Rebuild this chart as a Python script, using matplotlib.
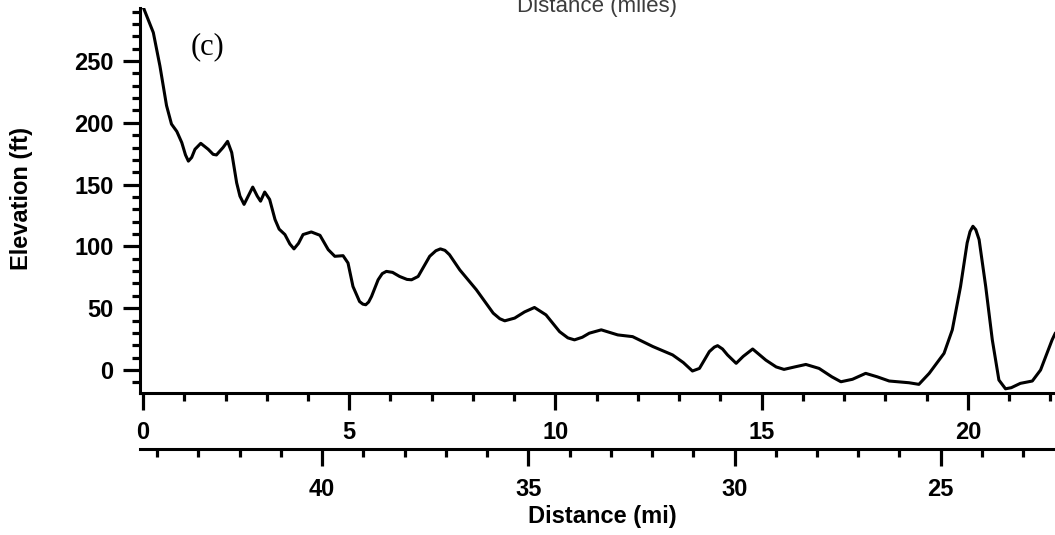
import matplotlib
matplotlib.use('Agg')
import matplotlib.pyplot as plt
from matplotlib.ticker import MultipleLocator

# profile (distance along route in miles, elevation in ft)
dist_mi = [0.00, 0.25, 0.41, 0.57, 0.69, 0.82, 0.94, 1.03, 1.10, 1.18,
           1.26, 1.40, 1.58, 1.70, 1.78, 1.86, 1.94, 2.05, 2.15, 2.27,
           2.35, 2.45, 2.55, 2.66, 2.77, 2.85, 2.95, 3.07, 3.20, 3.30,
           3.44, 3.56, 3.66, 3.77, 3.88, 4.08, 4.29, 4.49, 4.65, 4.85,
           4.97, 5.09, 5.25, 5.33, 5.40, 5.47, 5.54, 5.70, 5.80, 5.90,
           6.05, 6.22, 6.40, 6.51, 6.67, 6.95, 7.10, 7.21, 7.32, 7.43,
           7.68, 8.08, 8.49, 8.65, 8.77, 9.01, 9.25, 9.49, 9.77, 10.10,
           10.30, 10.46, 10.65, 10.82, 11.11, 11.51, 11.87, 12.36, 12.84, 13.10,
           13.32, 13.49, 13.73, 13.85, 13.93, 14.05, 14.17, 14.38, 14.55, 14.78,
           15.10, 15.35, 15.54, 15.80, 16.07, 16.39, 16.70, 16.92, 17.20, 17.52,
           17.80, 18.09, 18.57, 18.81, 19.06, 19.42, 19.62, 19.82, 19.98, 20.05,
           20.12, 20.19, 20.27, 20.43, 20.59, 20.75, 20.91, 21.05, 21.27, 21.56,
           21.76, 22.04, 22.12]
elev_ft = [294, 273, 246, 214, 199, 193, 184, 174, 169, 172,
           178.6, 183.4, 178.6, 174.5, 174, 177, 180, 185, 176, 151.5,
           140.7, 134, 140.7, 148, 140.7, 136.6, 144, 138, 121.8, 114,
           109.6, 102, 98, 102.5, 109.6, 111.7, 109, 97.4, 92, 92.5,
           86.6, 67.6, 55.4, 53.3, 52.8, 55, 59.5, 73, 78, 79.8,
           79, 75.7, 73.3, 73, 75.7, 92, 96.5, 98, 96.8, 93.3,
           81, 65, 46, 41.5, 39.8, 42, 47, 50.6, 44.6, 31,
           26, 24.4, 26.5, 29.8, 32.5, 28.4, 27, 19, 12.2, 6,
           -0.8, 1.3, 14.9, 18.5, 19.7, 17, 12.2, 5.4, 11, 17,
           8, 2.5, 0.5, 2.5, 4.5, 1.3, -5.5, -9.5, -7.5, -2.7,
           -5.5, -8.9, -10.3, -11.6, -2.7, 13.5, 32.5, 67.6, 102.8, 112,
           116.3, 113.5, 105.5, 67.6, 24.4, -8.1, -15.2, -14.3, -10.8, -8.9,
           0, 24.4, 30]

route_total = 44.34  # lower scale counts down from here

plt.rcParams['font.family'] = ['Liberation Sans', 'DejaVu Sans']
plt.rcParams['font.weight'] = 'bold'

W, H = 1055, 535
fig = plt.figure(figsize=(W / 100, H / 100), dpi=100)
ax = fig.add_axes([140 / W, (H - 393) / H, 915 / W, 385 / H])

ax.plot(dist_mi, elev_ft, color='black', lw=2.2, solid_joinstyle='round',
        solid_capstyle='round')
ax.set_xlim(-0.073, 22.11)
ax.set_ylim(-18.6, 292.9)

for side in ['top', 'right']:
    ax.spines[side].set_visible(False)
for side in ['left', 'bottom']:
    ax.spines[side].set_linewidth(2.2)

ax.xaxis.set_major_locator(MultipleLocator(5))
ax.xaxis.set_minor_locator(MultipleLocator(1))
ax.yaxis.set_major_locator(MultipleLocator(50))
ax.yaxis.set_minor_locator(MultipleLocator(10))
ax.tick_params(which='major', length=12, width=2.3, labelsize=17)
ax.tick_params(which='minor', length=6, width=2.3)
ax.tick_params(axis='y', which='major', pad=7)
ax.tick_params(axis='x', which='major', pad=8)

# second distance scale, running the other way
sec = ax.secondary_xaxis(-56 / 385, functions=(lambda d: route_total - d,
                                                lambda d: route_total - d))
sec.spines['bottom'].set_linewidth(2.2)
sec.xaxis.set_major_locator(MultipleLocator(5))
sec.xaxis.set_minor_locator(MultipleLocator(1))
sec.tick_params(which='major', length=12, width=2.3, labelsize=17, pad=9)
sec.tick_params(which='minor', length=6, width=2.3)

ax.text(0.0738, 0.900, '(c)', transform=ax.transAxes, family=['Liberation Serif'],
        fontsize=22, fontweight='normal', ha='center', va='center')

fig.text(597 / W, 1 - 12 / H, 'Distance (miles)', ha='center', va='baseline',
         fontsize=16, fontweight='normal', color='#3c3c3c')
fig.text(21.5 / W, 1 - 198.5 / H, 'Elevation (ft)', rotation=90,
         ha='center', va='center', fontsize=17)
fig.text(602.5 / W, 1 - 517 / H, 'Distance (mi)', ha='center', va='center',
         fontsize=17)

fig.savefig('out.png', dpi=100)
